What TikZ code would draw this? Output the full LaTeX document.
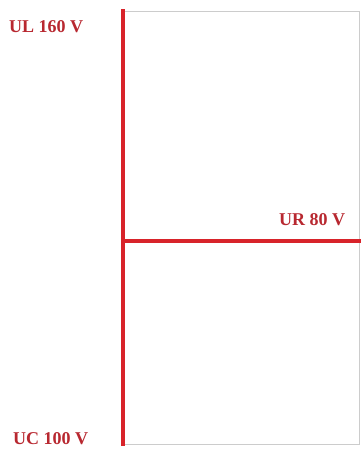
\documentclass[tikz,border=0pt]{standalone}
\usepackage{fontspec}
\setmainfont{Liberation Serif}
\definecolor{linered}{HTML}{D8232A}
\definecolor{textred}{HTML}{B82830}
\definecolor{framegray}{HTML}{CCCCCC}
\begin{document}
\begin{tikzpicture}[x=1pt,y=-1pt,
  redline/.style={draw=linered,line width=4pt},
  lbl/.style={font=\fontsize{18}{20}\selectfont\bfseries,text=textred,inner sep=0pt,anchor=base west}]
\useasboundingbox[fill=white] (0,0) rectangle (361,450);
\draw[framegray,line width=1pt] (123,11) rectangle (359,444);
\coordinate (top) at (123,9);
\coordinate (bot) at (123,446);
\coordinate (mid) at (123,241);
\coordinate (right) at (361,241);
\draw[redline] (top) -- (bot);
\draw[redline] (mid) -- (right);
\node[lbl] (ul) at (9,32) {UL 160 V};
\node[lbl] (ur) at (279,225) {UR 80 V};
\node[lbl] (uc) at (13,444) {UC 100 V};
\end{tikzpicture}
\end{document}
